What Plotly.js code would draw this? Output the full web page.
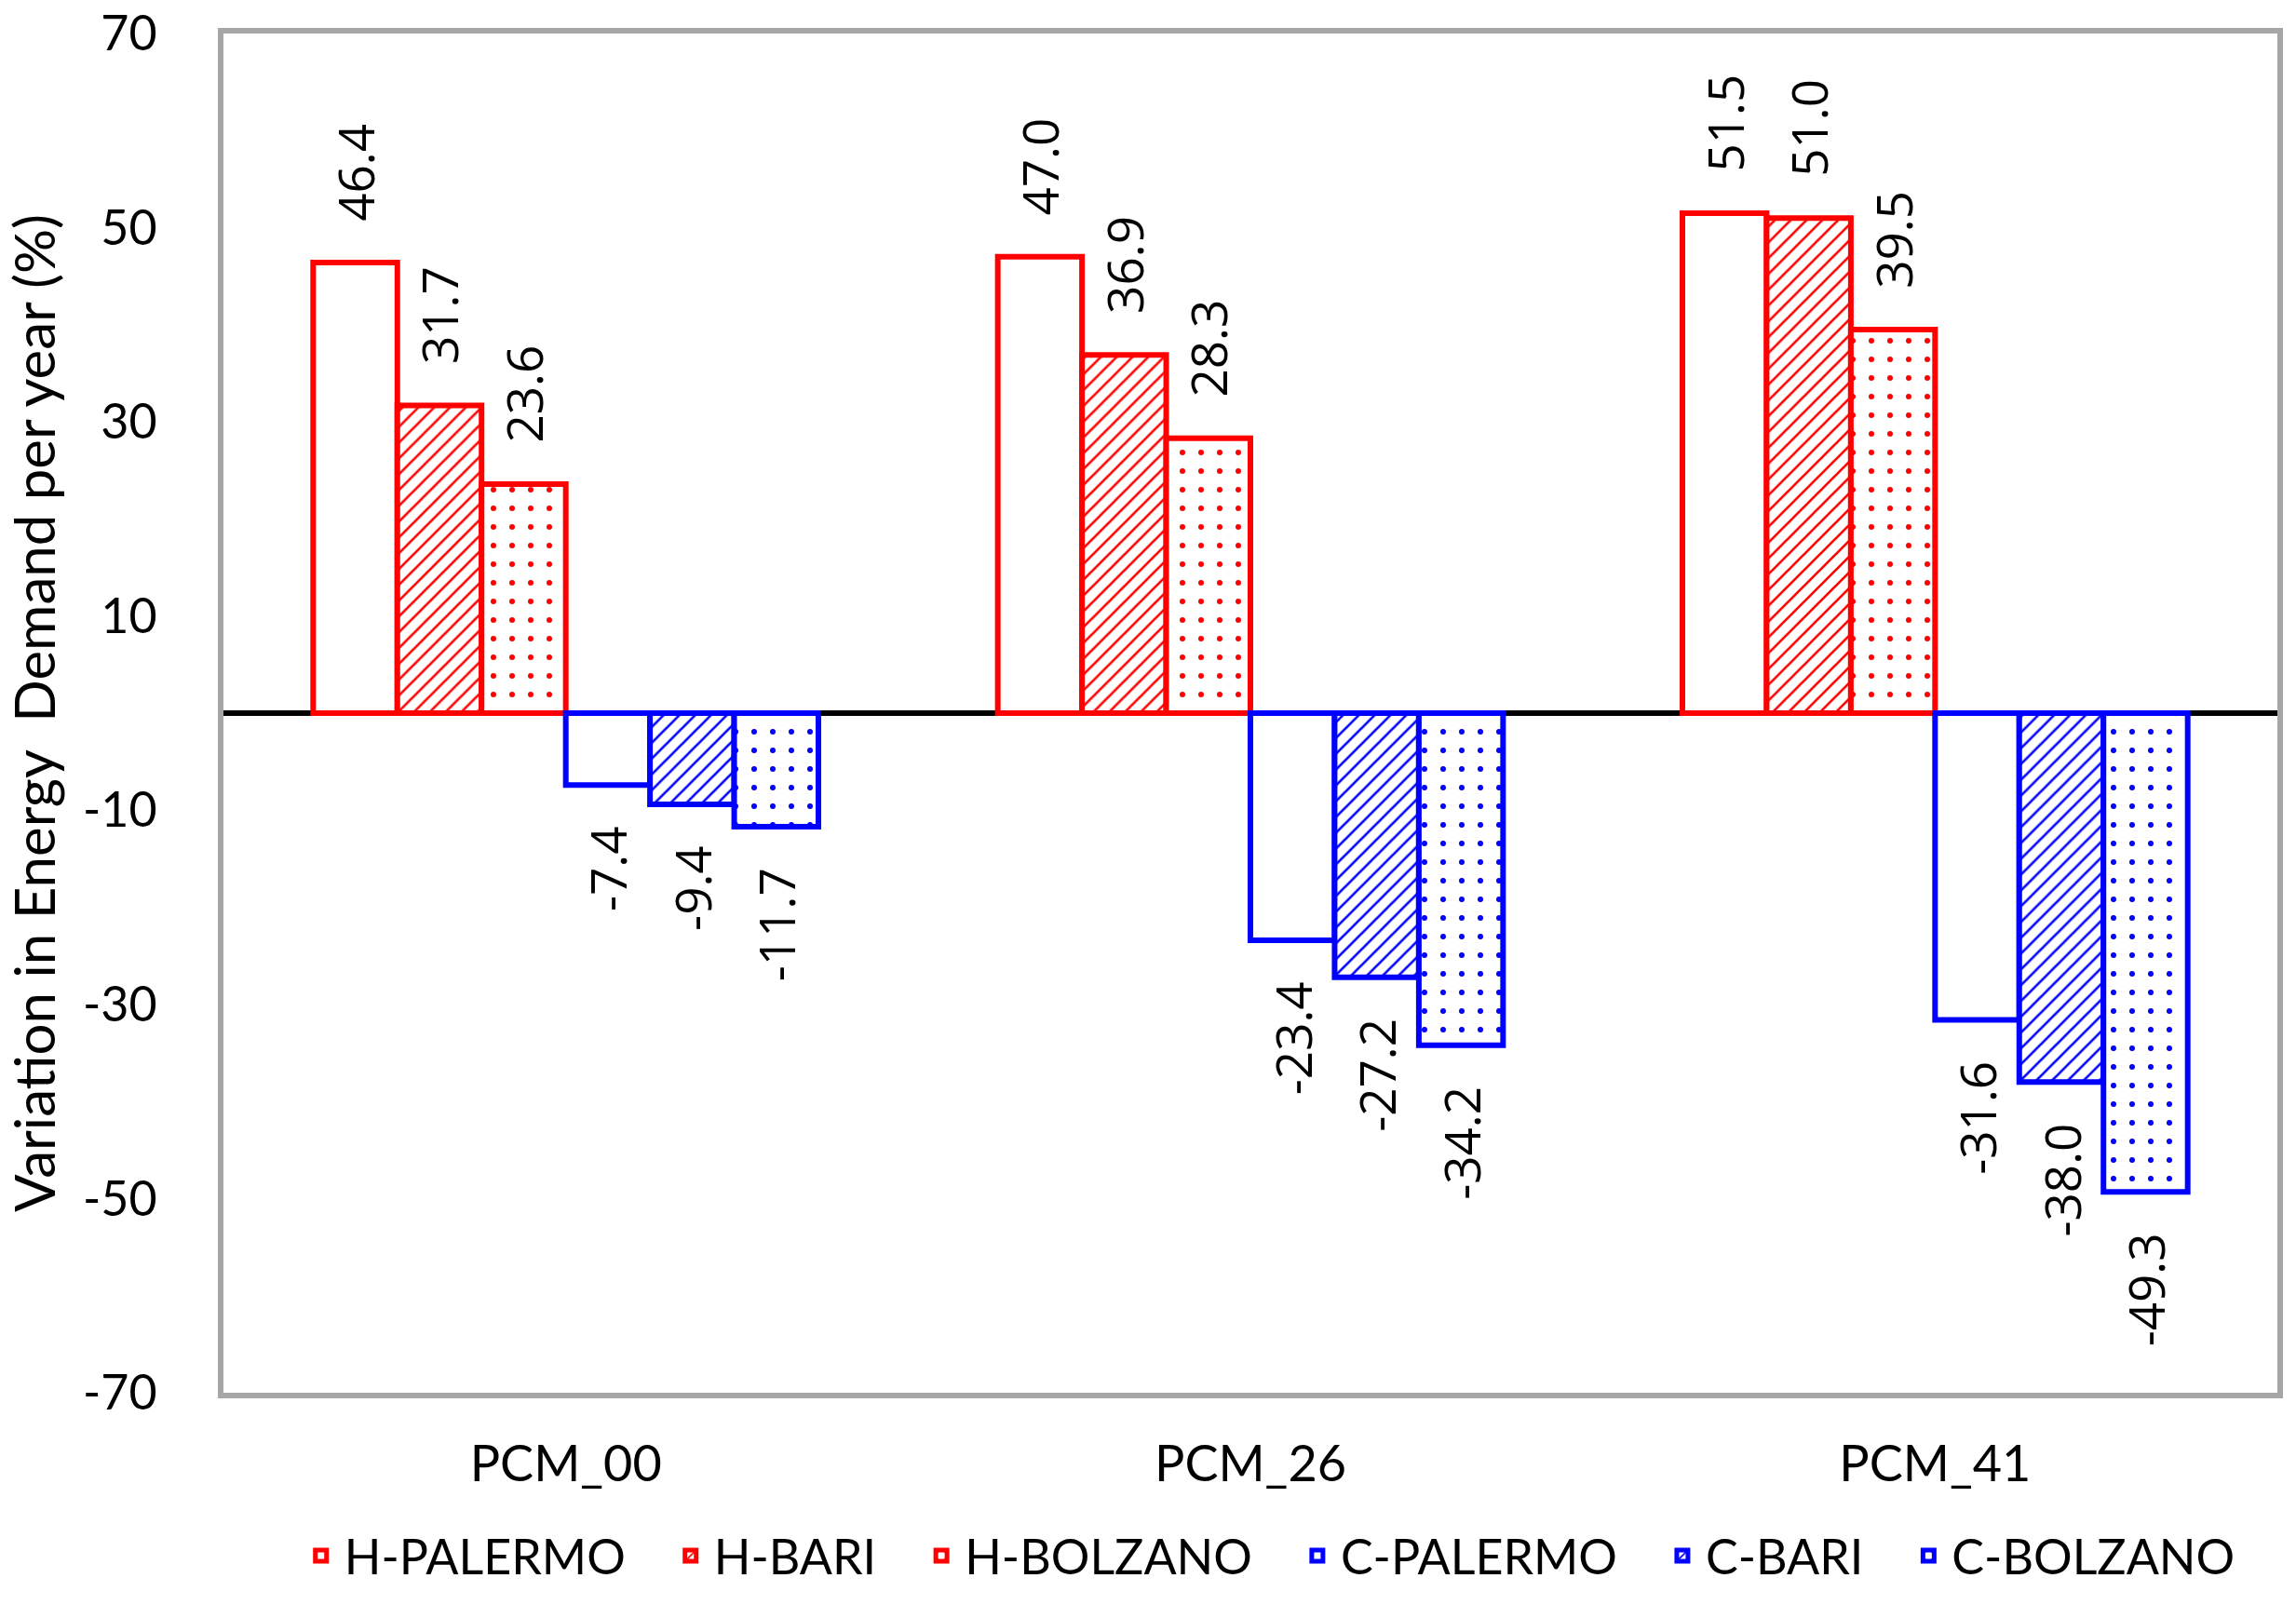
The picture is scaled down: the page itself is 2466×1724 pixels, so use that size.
<!DOCTYPE html>
<html>
<head>
<meta charset="utf-8">
<script src="https://cdn.plot.ly/plotly-3.0.1.min.js"></script>
<style>html,body{margin:0;padding:0;background:#fff;}#chart{width:2466px;height:1724px;}</style>
</head>
<body>
<div id="chart"></div>
<script>
const categories = ['PCM_00', 'PCM_26', 'PCM_41'];
const seriesNames = ['H-PALERMO', 'H-BARI', 'H-BOLZANO', 'C-PALERMO', 'C-BARI', 'C-BOLZANO'];
const hPalermo = [46.4, 47.0, 51.5];
const hBari = [31.7, 36.9, 51.0];
const hBolzano = [23.6, 28.3, 39.5];
const cPalermo = [-7.4, -23.4, -31.6];
const cBari = [-9.4, -27.2, -38.0];
const cBolzano = [-11.7, -34.2, -49.3];
const yTicks = [-70, -50, -30, -10, 10, 30, 50, 70];

const seriesValues = [hPalermo, hBari, hBolzano, cPalermo, cBari, cBolzano];
const colors = ['#FF0000', '#FF0000', '#FF0000', '#0000FF', '#0000FF', '#0000FF'];
const shapes = ['', '/', '.', '', '/', '.'];
const NB = '\u00A0\u00A0\u00A0';

const traces = seriesValues.map((vals, i) => {
  const pat = shapes[i] === '' ? {shape: ''} :
    (shapes[i] === '/' ? {shape: '/', fgcolor: colors[i], bgcolor: '#FFFFFF', size: 12, solidity: 0.22, fillmode: 'replace'}
                       : {shape: '.', fgcolor: colors[i], bgcolor: '#FFFFFF', size: 20, solidity: 0.07, fillmode: 'replace'});
  const positive = vals[0] >= 0;
  return {
    type: 'bar',
    name: seriesNames[i] + NB,
    x: categories,
    y: vals,
    marker: {color: '#FFFFFF', line: {color: colors[i], width: 6}, pattern: pat},
    texttemplate: positive ? NB + '%{y:.1f}' : '%{y:.1f}' + NB,
    textposition: 'outside',
    textangle: -90,
    constraintext: 'none',
    cliponaxis: false,
    textfont: {family: 'Open Sans', size: 53, color: '#000000'},
    hoverinfo: 'skip'
  };
});

const layout = {
  width: 2466, height: 1724,
  paper_bgcolor: '#FFFFFF', plot_bgcolor: '#FFFFFF',
  margin: {l: 240, r: 20, t: 36, b: 208},
  barmode: 'group',
  bargap: 0.262,
  bargroupgap: 0,
  font: {family: 'Lato', size: 52, color: '#000000'},
  showlegend: true,
  legend: {orientation: 'h', x: 0.518, xanchor: 'center', y: -0.12, yanchor: 'middle',
           font: {family: 'Lato', size: 52, color: '#000000'}, traceorder: 'normal',
           itemwidth: 40},
  xaxis: {
    type: 'category',
    showline: true, mirror: true, linecolor: '#A6A6A6', linewidth: 6,
    showgrid: false, ticks: '', ticklabelstandoff: 24,
    tickfont: {family: 'Lato', size: 54, color: '#000000'}
  },
  yaxis: {
    range: [-70, 70],
    tickmode: 'array', tickvals: yTicks, ticktext: yTicks.map(String),
    showline: true, mirror: true, linecolor: '#A6A6A6', linewidth: 6,
    showgrid: false, ticks: '', ticklabelstandoff: 55,
    zeroline: true, zerolinecolor: '#000000', zerolinewidth: 6,
    tickfont: {family: 'Lato', size: 52, color: '#000000'},
    title: {text: 'Variation in Energy  Demand per year (%)', font: {family: 'Lato', size: 60, color: '#000000'}, standoff: 18},
    automargin: false
  }
};

Plotly.newPlot('chart', traces, layout, {staticPlot: true, displayModeBar: false});
</script>
</body>
</html>
